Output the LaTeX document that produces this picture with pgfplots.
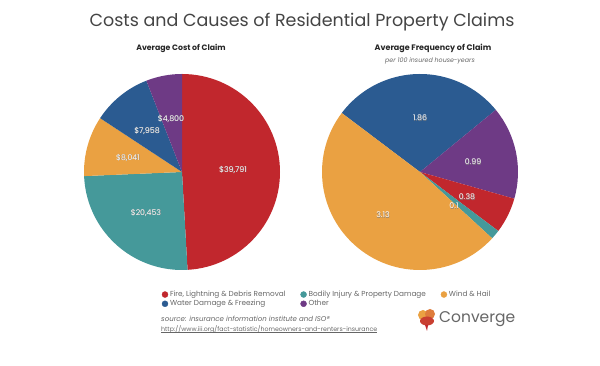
\documentclass[border=0pt]{standalone}
\usepackage{pgfplots}
\pgfplotsset{compat=1.18}
\usepackage{fontspec}
\setmainfont{Poppins}
\definecolor{cfire}{HTML}{C1272D}
\definecolor{cbody}{HTML}{45999A}
\definecolor{cwind}{HTML}{EAA142}
\definecolor{cwater}{HTML}{2B5B91}
\definecolor{cother}{HTML}{6E3A85}
\definecolor{ctext}{HTML}{444444}
\definecolor{cgray}{HTML}{666666}

\newcommand{\curangle}{90}
% #1 cx, #2 cy, #3 r, #4 value, #5 total, #6 colour  (clockwise)
\newcommand{\pieslice}[6]{%
  \edef\sa{\fpeval{round(\curangle,4)}}%
  \edef\ea{\fpeval{round(\curangle-360*(#4)/(#5),4)}}%
  \edef\sx{\fpeval{round(#1+#3*cosd(\sa),4)}}%
  \edef\sy{\fpeval{round(#2+#3*sind(\sa),4)}}%
  \edef\temp{\noexpand\fill[#6] (axis cs:#1,#2) -- (axis cs:\sx,\sy) arc[start angle=\sa, end angle=\ea, radius=#3pt] -- cycle;}%
  \temp
  \xdef\curangle{\ea}%
}
\newcommand{\plabel}[3]{%
  \node[font=\fontsize{7.8}{8}\selectfont, text=black!50] at (axis cs:#1+0.4,#2-0.4) {#3};
  \node[font=\fontsize{7.8}{8}\selectfont, text=white] at (axis cs:#1,#2) {#3};
}

\begin{document}
\begin{tikzpicture}
\path (0,0) rectangle (600pt,366pt);
\begin{axis}[
  at={(0,0)}, anchor=origin,
  x=1pt, y=1pt,
  xmin=0, xmax=600, ymin=0, ymax=366,
  hide axis,
  clip=false,
  legend columns=3,
  legend cell align=left,
  legend style={
    at={(axis cs:162,77)}, anchor=north west,
    draw=none, fill=none,
    font=\fontsize{7.3}{7.5}\selectfont\color{cgray},
    inner sep=0pt, outer sep=0pt,
    row sep=-1.8pt,
    /tikz/every even column/.append style={column sep=13pt},
  },
]
% ---------------- Left pie: Average cost of claim ----------------
\gdef\curangle{90}
\pieslice{182}{194}{98}{39791}{81043}{cfire}
\pieslice{182}{194}{98}{20453}{81043}{cbody}
\pieslice{182}{194}{98}{8041}{81043}{cwind}
\pieslice{182}{194}{98}{7958}{81043}{cwater}
\pieslice{182}{194}{98}{4800}{81043}{cother}
% ---------------- Right pie: Average frequency of claim ----------------
\gdef\curangle{143}
\pieslice{420}{194}{98}{1.86}{6.46}{cwater}
\pieslice{420}{194}{98}{0.99}{6.46}{cother}
\pieslice{420}{194}{98}{0.38}{6.46}{cfire}
\pieslice{420}{194}{98}{0.1}{6.46}{cbody}
\pieslice{420}{194}{98}{3.13}{6.46}{cwind}

% labels
\plabel{233}{196}{\$39,791}
\plabel{146}{153}{\$20,453}
\plabel{128}{208}{\$8,041}
\plabel{147}{235}{\$7,958}
\plabel{171}{247}{\$4,800}
\plabel{420}{248}{1.86}
\plabel{473}{204}{0.99}
\plabel{467}{169}{0.38}
\plabel{454}{160}{0.1}
\plabel{383}{151}{3.13}

% legend entries
\addlegendimage{only marks, mark=*, mark size=3pt, color=cfire}
\addlegendentry{Fire, Lightning \& Debris Removal}
\addlegendimage{only marks, mark=*, mark size=3pt, color=cbody}
\addlegendentry{Bodily Injury \& Property Damage}
\addlegendimage{only marks, mark=*, mark size=3pt, color=cwind}
\addlegendentry{Wind \& Hail}
\addlegendimage{only marks, mark=*, mark size=3pt, color=cwater}
\addlegendentry{Water Damage \& Freezing}
\addlegendimage{only marks, mark=*, mark size=3pt, color=cother}
\addlegendentry{Other}

% titles
\node[font=\fontsize{17.5}{20}\selectfont, text=ctext] at (axis cs:302,344) {Costs and Causes of Residential Property Claims};
\node[font=\fontsize{7.8}{9}\selectfont\bfseries, text=black!85] at (axis cs:181,318) {Average Cost of Claim};
\node[font=\fontsize{8}{9}\selectfont\bfseries, text=black!85] at (axis cs:433,318) {Average Frequency of Claim};
\node[font=\fontsize{6.3}{7}\selectfont\itshape, text=cgray] at (axis cs:430,305) {per 100 insured house-years};

% source
\node[anchor=west, font=\fontsize{7}{8}\selectfont\itshape, text=cgray, inner sep=0pt] at (axis cs:161,47) {source: insurance information institute and ISO{\fontsize{7}{8}\selectfont\raisebox{0pt}{®}}};
\node[anchor=west, font=\fontsize{6.25}{7}\selectfont, text=cgray, inner sep=0pt] (url) at (axis cs:161,37) {http://www.iii.org/fact-statistic/homeowners-and-renters-insurance};
\draw[cgray, line width=0.4pt] (url.south west) ++(0,0.3pt) -- ([yshift=0.3pt]url.south east);

% logo
\fill[cwind] (axis cs:423,51) circle[radius=5pt];
\fill[cwind!70!cfire] (axis cs:430,52) circle[radius=5pt];
\fill[cfire!80!cwind] (axis cs:427,45) ellipse[x radius=7pt, y radius=4.5pt];
\fill[cfire] (axis cs:425,41) -- (axis cs:428,41) -- (axis cs:427,35) -- cycle;
\node[anchor=west, font=\fontsize{15.5}{17}\selectfont, text=cgray, inner sep=0pt] at (axis cs:439,47) {Converge};
\end{axis}
\end{tikzpicture}
\end{document}
